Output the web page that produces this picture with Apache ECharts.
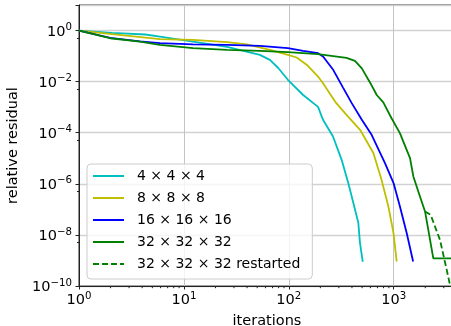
<!DOCTYPE html>
<html>
<head>
<meta charset="utf-8">
<script src="https://cdn.jsdelivr.net/npm/echarts@6/dist/echarts.min.js"></script>
<style>
html, body { margin: 0; padding: 0; background: #fff; }
#chart { width: 451px; height: 326px; }
</style>
</head>
<body>
<div id="chart"></div>
<script>
var seriesNames = ['4 × 4 × 4', '8 × 8 × 8', '16 × 16 × 16', '32 × 32 × 32', '32 × 32 × 32 restarted'];

var iters4 = [1, 2.06, 4.3, 5.9, 12.2, 25.8, 53, 66, 79, 98, 137, 190, 212, 264, 319, 369, 412, 460, 477, 507];
var resid4 = [1, 0.81, 0.70, 0.58, 0.37, 0.23, 0.112, 0.071, 0.035, 0.0118, 0.003, 0.00103, 3.2e-4, 7.1e-5, 8.7e-6, 1.07e-6, 1.8e-7, 3.0e-8, 4.9e-9, 8.9e-10];

var iters8 = [1, 2.06, 5.9, 12.2, 25.8, 39.8, 66, 98, 119, 149, 190, 212, 276, 355, 478, 640, 766, 890, 996, 1068];
var resid8 = [1, 0.72, 0.46, 0.43, 0.35, 0.29, 0.176, 0.112, 0.088, 0.045, 0.0158, 0.0087, 1.66e-3, 5.0e-4, 1.3e-4, 1.6e-5, 1.43e-6, 1.29e-7, 1.18e-8, 9.1e-10];

var iters16 = [1, 1.98, 3.81, 5.9, 12.2, 25.8, 53, 98, 137, 190, 212, 265, 330, 398, 497, 616, 826, 997, 1147, 1330, 1532];
var resid16 = [1, 0.52, 0.38, 0.32, 0.29, 0.275, 0.25, 0.205, 0.16, 0.13, 0.096, 0.029, 5.7e-3, 1.44e-3, 3.2e-4, 8.3e-5, 6.5e-6, 1.07e-6, 1.29e-7, 1.18e-8, 9.1e-10];

var iters32 = [1, 1.98, 3.81, 5.9, 12.2, 25.8, 53, 98, 190, 355, 427, 497, 600, 689, 796, 954, 1146, 1431, 1540, 1780, 1990, 2386, 3900];
var resid32 = [1, 0.50, 0.37, 0.275, 0.205, 0.176, 0.16, 0.143, 0.119, 0.085, 0.065, 0.033, 8.7e-3, 3.0e-3, 1.55e-3, 3.7e-4, 9.6e-5, 1.02e-5, 1.94e-6, 3.2e-7, 8.3e-8, 1.2e-9, 1.2e-9];

var itersRestart = [1990, 2250, 2762, 3202, 3441, 3700];
var residRestart = [8.3e-8, 6.1e-8, 6.4e-9, 4.3e-10, 1.1e-10, 5e-11];

var xTickExponents = [0, 1, 2, 3];
var yTickExponents = [-10, -8, -6, -4, -2, 0];

var xMin = 1, xMax = 3841;
var yMin = 1e-10, yMax = 10;

// minor ticks 2..9 of every decade on the x axis
var xMinorTicks = [];
for (var k = 0; k < 4; k++) {
	for (var m = 2; m < 10; m++) {
		var v = m * Math.pow(10, k);
		if (v < xMax) xMinorTicks.push([v, yMin]);
	}
}

function zip(xs, ys) {
	var out = [];
	for (var i = 0; i < xs.length; i++) out.push([xs[i], ys[i]]);
	return out;
}

function powLabel(exps) {
	return function (value) {
		var e = Math.round(Math.log10(value));
		if (Math.abs(value / Math.pow(10, e) - 1) > 1e-6) return '';
		if (exps.indexOf(e) < 0) return '';
		return '{b|10}{s|' + String(e).replace('-', '−') + '}';
	};
}

var richTick = {
	b: { fontSize: 14.5, fontFamily: 'DejaVu Sans', color: '#000' },
	s: { fontSize: 10.2, fontFamily: 'DejaVu Sans', color: '#000', padding: [0, 0, 9, 0] }
};

var colors = ['#00bfbf', '#bfbf00', '#0000ff', '#008000', '#008000'];

var myChart = echarts.init(document.getElementById('chart'));

var option = {
	animation: false,
	textStyle: { fontFamily: 'DejaVu Sans' },
	grid: {
		left: 79, top: 5, right: -4, bottom: 40,
		containLabel: false, outerBoundsMode: 'none',
		show: true, borderColor: '#222', borderWidth: 1, backgroundColor: 'transparent'
	},
	legend: {
		data: seriesNames,
		orient: 'vertical',
		left: 87, top: 164,
		itemWidth: 31, itemHeight: 14, itemGap: 8,
		padding: [5, 12, 8, 5],
		backgroundColor: 'rgba(255,255,255,0.8)',
		borderColor: '#cccccc', borderWidth: 1, borderRadius: 4,
		itemStyle: { opacity: 0 },
		textStyle: { fontSize: 14, color: '#000', fontFamily: 'DejaVu Sans', padding: [0, 0, 0, 8] }
	},
	xAxis: {
		type: 'log', logBase: 10, min: xMin, max: xMax, interval: 1,
		name: 'iterations', nameLocation: 'middle', nameGap: 28,
		nameTextStyle: { fontSize: 14.5, color: '#000', fontFamily: 'DejaVu Sans' },
		axisLine: { show: true, lineStyle: { color: '#222', width: 1 } },
		axisTick: { show: true, length: 3.5, lineStyle: { color: '#222' } },
		axisLabel: { margin: 5, formatter: powLabel(xTickExponents), rich: richTick },
		splitLine: { show: true, lineStyle: { color: '#c4c4c4', width: 1 } }
	},
	yAxis: {
		type: 'log', logBase: 10, min: yMin, max: yMax, interval: 2,
		name: 'relative residual', nameLocation: 'middle', nameGap: 54,
		nameTextStyle: { fontSize: 14.5, color: '#000', fontFamily: 'DejaVu Sans' },
		axisLine: { show: true, lineStyle: { color: '#222', width: 1 } },
		axisTick: { show: true, length: 3.5, lineStyle: { color: '#222' } },
		minorTick: { show: true, splitNumber: 2, length: 2, lineStyle: { color: '#222' } },
		axisLabel: { margin: 7, formatter: powLabel(yTickExponents), rich: richTick, padding: [3, 0, 0, 0] },
		splitLine: { show: true, lineStyle: { color: '#d2d2d2', width: 1.4 } }
	},
	series: [
		{ name: seriesNames[0], type: 'line', data: zip(iters4, resid4), showSymbol: false, symbol: 'none',
		  lineStyle: { color: colors[0], width: 1.8 }, itemStyle: { color: colors[0] } },
		{ name: seriesNames[1], type: 'line', data: zip(iters8, resid8), showSymbol: false, symbol: 'none',
		  lineStyle: { color: colors[1], width: 1.8 }, itemStyle: { color: colors[1] } },
		{ name: seriesNames[2], type: 'line', data: zip(iters16, resid16), showSymbol: false, symbol: 'none',
		  lineStyle: { color: colors[2], width: 1.8 }, itemStyle: { color: colors[2] } },
		{ name: seriesNames[3], type: 'line', data: zip(iters32, resid32), showSymbol: false, symbol: 'none',
		  lineStyle: { color: colors[3], width: 1.8 }, itemStyle: { color: colors[3] } },
		{ name: seriesNames[4], type: 'line', data: zip(itersRestart, residRestart), showSymbol: false, symbol: 'none',
		  lineStyle: { color: colors[4], width: 1.8, type: [6, 3] }, itemStyle: { color: colors[4] } },
		{
			type: 'custom', silent: true, clip: false, data: xMinorTicks,
			renderItem: function (params, api) {
				var p = api.coord([api.value(0), api.value(1)]);
				return {
					type: 'line',
					shape: { x1: p[0], y1: p[1], x2: p[0], y2: p[1] + 2.2 },
					style: { stroke: '#222', lineWidth: 1 }
				};
			}
		}
	]
};

myChart.setOption(option);
</script>
</body>
</html>
